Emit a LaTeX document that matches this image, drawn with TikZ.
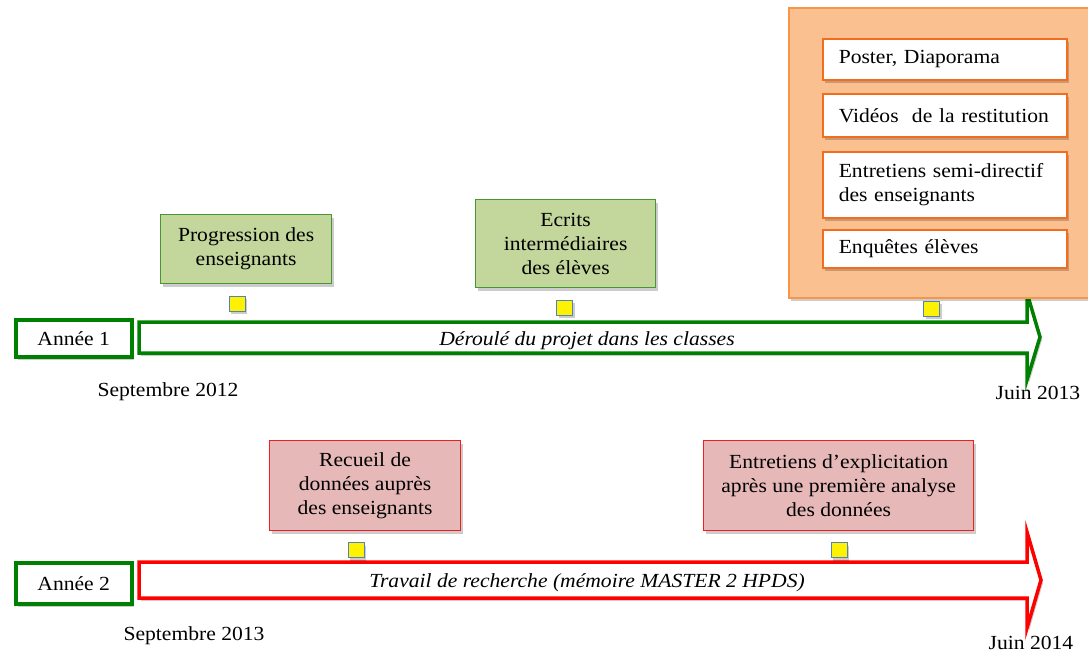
\documentclass[tikz,border=0pt]{standalone}
\usepackage{fontspec}
\setmainfont[FakeStretch=1.08]{Liberation Serif}
\usetikzlibrary{shadows}
\definecolor{dkgreen}{RGB}{0,128,0}
\definecolor{boxgreen}{RGB}{195,214,155}
\definecolor{boxgreenline}{RGB}{70,150,50}
\definecolor{boxred}{RGB}{230,185,184}
\definecolor{redline}{RGB}{240,30,30}
\definecolor{orfill}{RGB}{250,192,144}
\definecolor{orline}{RGB}{247,150,70}
\definecolor{orinner}{RGB}{242,110,30}
\definecolor{sqline}{RGB}{80,130,190}
\begin{document}
\begin{tikzpicture}[x=1pt,y=-1pt, font=\fontsize{20}{24}\selectfont,
  shad/.style={drop shadow={shadow xshift=2pt,shadow yshift=-3pt,opacity=0.2,fill=black}},
  yearbox/.style={draw=dkgreen, line width=3.5pt, fill=white, shad, anchor=north west, inner sep=0pt},
  gbox/.style={draw=boxgreenline, line width=1.2pt, fill=boxgreen, shad, anchor=north west, align=center, inner sep=0pt},
  rbox/.style={draw=redline, line width=1.2pt, fill=boxred, shad, anchor=north west, align=center, inner sep=0pt},
  obox/.style={draw=orinner, line width=1.5pt, fill=white, shad, anchor=north west, align=left, inner xsep=16pt, inner ysep=0pt, text width=212pt, minimum width=244pt},
  sq/.style={draw=sqline, line width=1pt, fill=yellow, shad, minimum width=16pt, minimum height=15pt, inner sep=0pt},
  datelbl/.style={inner sep=0pt},
  arr/.style={line width=3.5pt, fill=white, line join=miter, shad}
]
\useasboundingbox (0,0) rectangle (1088,653);

% ---------- Year 1 ----------
\node[yearbox, minimum width=116pt, minimum height=37pt] (y1) at (14,318) {Année 1};
\draw[arr, draw=dkgreen] (139,322) -- (1027,322) -- (1027,293) -- (1040,337) -- (1027,380) -- (1027,353) -- (139,353) -- cycle;
\node (a1) at (587,341) {\itshape Déroulé du projet dans les classes};
\node[datelbl] (s12) at (168,392) {Septembre 2012};
\node[datelbl] (j13) at (1038,393) {Juin 2013};

\node[gbox, minimum width=171pt, minimum height=69pt] (g1) at (160,214) {Progression des\\enseignants};
\node[gbox, minimum width=180pt, minimum height=88pt] (g2) at (475,199) {Ecrits\\intermédiaires\\des élèves};

% orange panel
\path[fill=orfill, draw=orline, line width=1.5pt, shad] (789,8) rectangle (1095,298);
\node[obox, minimum height=41pt] (o1) at (822,38) {Poster, Diaporama};
\node[obox, minimum height=43pt] (o2) at (822,93) {Vidéos\ \ de la restitution};
\node[obox, minimum height=66pt] (o3) at (822,151) {Entretiens semi-directif\\des enseignants};
\node[obox, minimum height=38pt] (o4) at (822,229) {Enquêtes élèves};

\node[sq] (q1) at (237,303.5) {};
\node[sq] (q2) at (564.5,307.5) {};
\node[sq] (q3) at (931.5,308.5) {};

% ---------- Year 2 ----------
\node[yearbox, minimum width=116pt, minimum height=41pt] (y2) at (14,561) {Année 2};
\draw[arr, draw=red] (139,562) -- (1027,562) -- (1027,532) -- (1041,580) -- (1027,628) -- (1027,598) -- (139,598) -- cycle;
\node (a2) at (587,583) {\itshape Travail de recherche (mémoire MASTER 2 HPDS)};
\node[datelbl] (s13) at (194,636) {Septembre 2013};
\node[datelbl] (j14) at (1031,643) {Juin 2014};

\node[rbox, minimum width=191pt, minimum height=90pt] (r1) at (269,440) {Recueil de\\données auprès\\des enseignants};
\node[rbox, minimum width=270pt, minimum height=90pt] (r2) at (703,440) {Entretiens d’explicitation\\après une première analyse\\des données};

\node[sq] (q4) at (356,550) {};
\node[sq] (q5) at (839,550) {};
\end{tikzpicture}
\end{document}
